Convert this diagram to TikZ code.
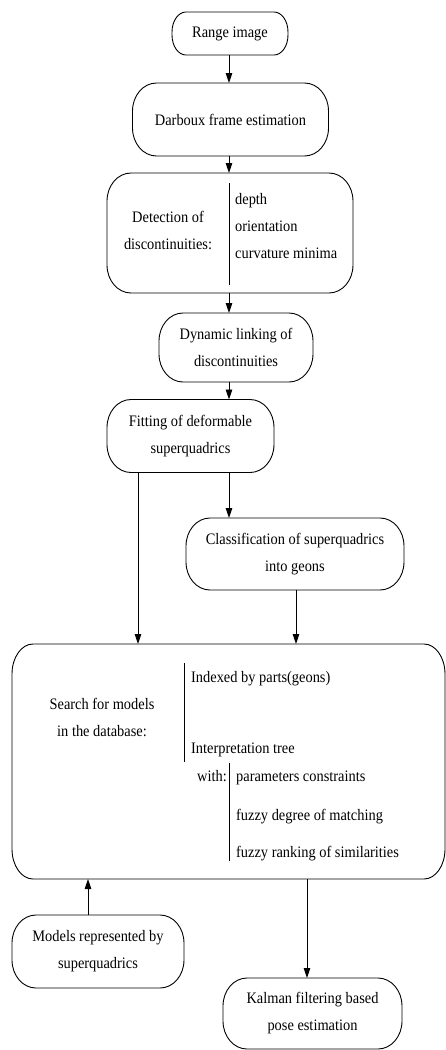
\documentclass[tikz,border=0pt]{standalone}
\usepackage{fontspec}
\setmainfont{Liberation Serif}[FakeStretch=0.9]
\usetikzlibrary{arrows.meta}
\newcommand\figfont{\fontsize{16}{27}\selectfont}
\tikzset{
  box/.style={draw=none, outer sep=0pt, align=center, inner sep=0pt, font=\figfont},
  outline/.style={draw, line width=0.9pt},
  txt/.style={inner sep=0pt, font=\figfont},
  arr/.style={draw, line width=0.9pt, -{Triangle[length=10pt,width=6.5pt]}},
  divider/.style={draw, line width=0.9pt}
}
% outline with elliptical corners around node #1, radii #2 (horizontal) and #3 (vertical)
\newcommand\ebox[3]{%
  \draw[outline]
   ([xshift=#2]#1.north west) -- ([xshift=-#2]#1.north east)
   .. controls ([xshift=-0.4477*#2]#1.north east) and ([yshift=-0.4477*#3]#1.north east) .. ([yshift=-#3]#1.north east)
   -- ([yshift=#3]#1.south east)
   .. controls ([yshift=0.4477*#3]#1.south east) and ([xshift=-0.4477*#2]#1.south east) .. ([xshift=-#2]#1.south east)
   -- ([xshift=#2]#1.south west)
   .. controls ([xshift=0.4477*#2]#1.south west) and ([yshift=0.4477*#3]#1.south west) .. ([yshift=#3]#1.south west)
   -- ([yshift=-#3]#1.north west)
   .. controls ([yshift=-0.4477*#3]#1.north west) and ([xshift=0.4477*#2]#1.north west) .. ([xshift=#2]#1.north west)
   -- cycle;}
\begin{document}
\begin{tikzpicture}[x=1pt,y=-1pt]
\useasboundingbox (0,0) rectangle (446,1050);
% boxes
\node[box, minimum width=116pt, minimum height=43pt] (range) at (230,33.5) {Range image};
\ebox{range}{14pt}{20pt}
\node[box, minimum width=196pt, minimum height=73pt] (darboux) at (230.5,119.5) {Darboux frame estimation};
\ebox{darboux}{24pt}{28pt}
\node[box, minimum width=246pt, minimum height=120pt] (detect) at (230,233) {};
\ebox{detect}{24pt}{28pt}
\node[txt, align=center] (dettxt) at (168,230) {Detection of\\discontinuities:};
\draw[divider] (229,183) -- (229,285);
\node[txt, anchor=base west] (depth) at (235,204) {depth};
\node[txt, anchor=base west] (orient) at (235,231) {orientation};
\node[txt, anchor=base west] (curv) at (235,258) {curvature minima};
\node[box, minimum width=154pt, minimum height=69pt] (dynamic) at (236,347.5) {Dynamic linking of\\discontinuities};
\ebox{dynamic}{24pt}{28pt}
\node[box, minimum width=167pt, minimum height=73pt] (fitting) at (190.5,436) {Fitting of deformable\\superquadrics};
\ebox{fitting}{24pt}{28pt}
\node[box, minimum width=218pt, minimum height=72pt] (classif) at (295,554) {Classification of superquadrics\\into geons};
\ebox{classif}{24pt}{28pt}
\node[box, minimum width=433pt, minimum height=235pt] (big) at (228.5,761.5) {};
\ebox{big}{21pt}{30pt}
\node[txt, align=center] (search) at (102,717.5) {Search for models\\in the database:};
\draw[divider] (184,663) -- (184,762);
\node[txt, anchor=base west] (indexed) at (191,682) {Indexed by parts(geons)};
\node[txt, anchor=base west] (interp) at (191,753) {Interpretation tree};
\node[txt, anchor=base east] (with) at (227,781) {with:};
\draw[divider] (229,763) -- (229,861);
\node[txt, anchor=base west] (param) at (236,781) {parameters constraints};
\node[txt, anchor=base west] (fdeg) at (236,820) {fuzzy degree of matching};
\node[txt, anchor=base west] (frank) at (236,857) {fuzzy ranking of similarities};
\node[box, minimum width=172pt, minimum height=73pt] (models) at (98,951.5) {Models represented by\\superquadrics};
\ebox{models}{24pt}{28pt}
\node[box, minimum width=179pt, minimum height=71pt] (kalman) at (312.5,1013.5) {Kalman filtering based\\pose estimation};
\ebox{kalman}{24pt}{28pt}
% connectors
\draw[arr] (229,0 |- range.south) -- (229,0 |- darboux.north);
\draw[arr] (229,0 |- darboux.south) -- (229,0 |- detect.north);
\draw[arr] (229,0 |- detect.south) -- (229,0 |- dynamic.north);
\draw[arr] (229,0 |- dynamic.south) -- (229,0 |- fitting.north);
\draw[arr] (138,0 |- fitting.south) -- (138,0 |- big.north);
\draw[arr] (229,0 |- fitting.south) -- (229,0 |- classif.north);
\draw[arr] (296,0 |- classif.south) -- (296,0 |- big.north);
\draw[arr] (88,0 |- models.north) -- (88,0 |- big.south);
\draw[arr] (307,0 |- big.south) -- (307,0 |- kalman.north);
\end{tikzpicture}
\end{document}
